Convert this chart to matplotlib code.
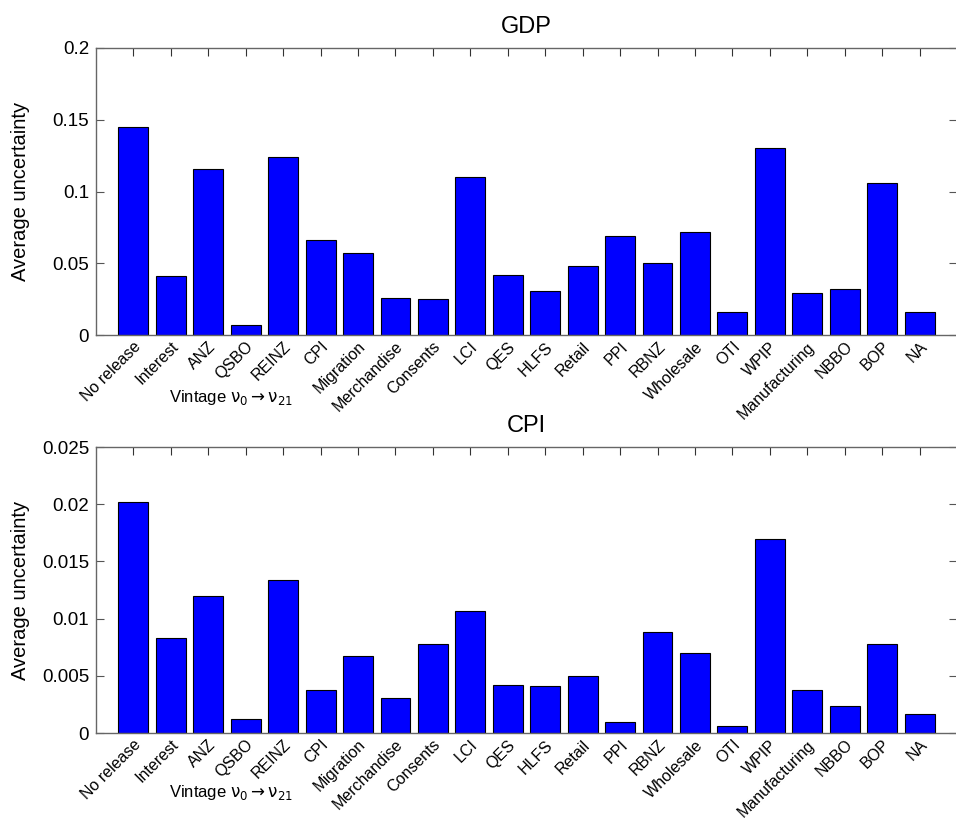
import matplotlib
matplotlib.use("Agg")
import matplotlib.pyplot as plt
import numpy as np

plt.rcParams['font.family'] = ['Liberation Sans', 'DejaVu Sans']

# 22 release categories
releases = ['No release', 'Interest', 'ANZ', 'QSBO', 'REINZ', 'CPI', 'Migration',
            'Merchandise', 'Consents', 'LCI', 'QES', 'HLFS', 'Retail', 'PPI', 'RBNZ',
            'Wholesale', 'OTI', 'WPIP', 'Manufacturing', 'NBBO', 'BOP', 'NA']

gdp_unc = [0.145, 0.041, 0.116, 0.007, 0.124, 0.066, 0.057, 0.026, 0.025, 0.110,
           0.042, 0.031, 0.048, 0.069, 0.050, 0.072, 0.016, 0.130, 0.029, 0.032,
           0.106, 0.016]

cpi_unc = [0.0202, 0.0083, 0.0120, 0.0012, 0.0134, 0.0038, 0.0067, 0.0031, 0.0078,
           0.0107, 0.0042, 0.0041, 0.0050, 0.0010, 0.0088, 0.0070, 0.0006, 0.0170,
           0.0038, 0.0024, 0.0078, 0.0017]

gdp_ticks = [0, 0.05, 0.1, 0.15, 0.2]
gdp_ticklabels = ['0', '0.05', '0.1', '0.15', '0.2']
cpi_ticks = [0, 0.005, 0.01, 0.015, 0.02, 0.025]
cpi_ticklabels = ['0', '0.005', '0.01', '0.015', '0.02', '0.025']

fig = plt.figure(figsize=(9.56, 8.18), dpi=100)
W, H = 956, 818


def panel(rect, values, title, ticks, ticklabels, ymax):
    ax = fig.add_axes(rect)
    x = np.arange(1, len(values) + 1)
    ax.bar(x, values, width=0.8, color='#0000ff', edgecolor='black', linewidth=0.8)
    ax.set_xlim(0, len(values) + 1)
    ax.set_ylim(0, ymax)
    ax.set_xticks(x)
    ax.set_xticklabels(releases, rotation=45, ha='right', rotation_mode='anchor',
                       fontsize=11.5)
    ax.set_yticks(ticks)
    ax.set_yticklabels(ticklabels, fontsize=13.5)
    ax.tick_params(axis='x', bottom=False, top=True, direction='in', length=6,
                   color='#333333', pad=3)
    ax.tick_params(axis='y', left=True, right=True, direction='in', length=6,
                   color='#555555', pad=5)
    for s in ax.spines.values():
        s.set_color('#666666')
        s.set_linewidth(1.0)
    ax.set_ylabel('Average uncertainty', fontsize=14.5)
    ax.yaxis.set_label_coords(-0.077, 0.5)
    ax.set_title(title, fontsize=17, pad=11)
    return ax


ax1 = panel([96 / W, 1 - 335 / H, 861 / W, 287 / H], gdp_unc, 'GDP',
            gdp_ticks, gdp_ticklabels, 0.2)
ax2 = panel([96 / W, 1 - 733 / H, 861 / W, 286 / H], cpi_unc, 'CPI',
            cpi_ticks, cpi_ticklabels, 0.025)

label = r'Vintage $\mathrm{\nu}_0 \rightarrow \mathrm{\nu}_{21}$'
fig.text(231 / W, 1 - 397 / H, label, fontsize=12, ha='center', va='center')
fig.text(231 / W, 1 - 793 / H, label, fontsize=12, ha='center', va='center')

fig.savefig('out.png', dpi=100, facecolor='white')
